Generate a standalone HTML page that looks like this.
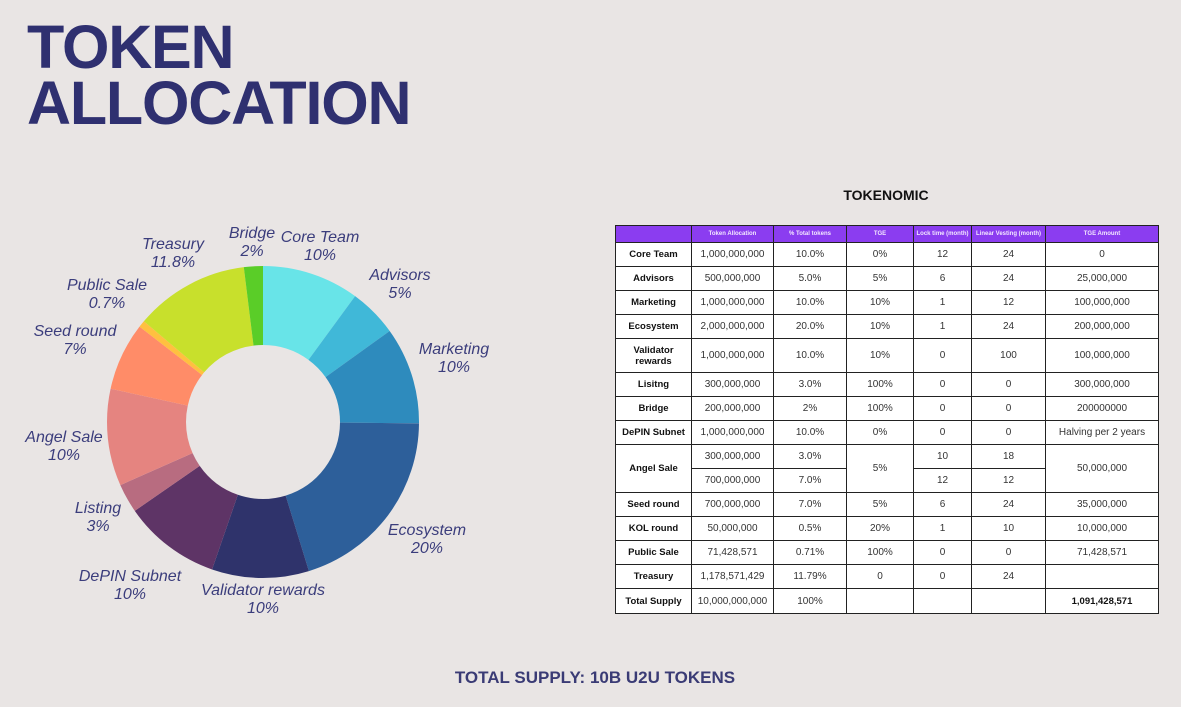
<!DOCTYPE html>
<html><head><meta charset="utf-8"><style>
body{margin:0;width:1181px;height:707px;background:#e9e5e4;position:relative;overflow:hidden;font-family:"Liberation Sans",sans-serif}
.t{position:absolute;left:27px;color:#2f3070;font-weight:bold;font-size:61px;letter-spacing:-1.2px;line-height:60px}
.lb{position:absolute;font-style:italic;color:#3b3d7c;font-size:16px;text-align:center;line-height:18px;transform:translateX(-50%);white-space:nowrap}
table{position:absolute;left:615px;top:225px;border-collapse:collapse;table-layout:fixed;width:543px}
td{border:1.5px solid #222;background:#fff;text-align:center;font-size:10px;color:#333;padding:0;height:23px}
th{background:#8b3df0;color:#f3e8ff;font-size:6px;font-weight:bold;height:16px;border:1.5px solid #222;padding:0}
td.n{font-weight:bold;color:#111;font-size:9.5px}
</style></head><body>
<div class="t" style="top:17px">TOKEN</div>
<div class="t" style="top:73px">ALLOCATION</div>
<svg style="position:absolute;left:0;top:0" width="600" height="707">
<g transform="rotate(-90 263 422)" fill="none" stroke-width="79">
<circle cx="263" cy="422" r="116.5" stroke="#68e4e8" stroke-dasharray="73.57 732" stroke-dashoffset="0"/>
<circle cx="263" cy="422" r="116.5" stroke="#40b8d8" stroke-dasharray="36.78 732" stroke-dashoffset="-73.57"/>
<circle cx="263" cy="422" r="116.5" stroke="#2e8bbd" stroke-dasharray="73.57 732" stroke-dashoffset="-110.35"/>
<circle cx="263" cy="422" r="116.5" stroke="#2d5f9a" stroke-dasharray="147.13 732" stroke-dashoffset="-183.92"/>
<circle cx="263" cy="422" r="116.5" stroke="#2f336b" stroke-dasharray="73.57 732" stroke-dashoffset="-331.05"/>
<circle cx="263" cy="422" r="116.5" stroke="#5e3466" stroke-dasharray="73.57 732" stroke-dashoffset="-404.62"/>
<circle cx="263" cy="422" r="116.5" stroke="#b86c80" stroke-dasharray="22.07 732" stroke-dashoffset="-478.19"/>
<circle cx="263" cy="422" r="116.5" stroke="#e58480" stroke-dasharray="73.57 732" stroke-dashoffset="-500.26"/>
<circle cx="263" cy="422" r="116.5" stroke="#ff8c68" stroke-dasharray="51.5 732" stroke-dashoffset="-573.83"/>
<circle cx="263" cy="422" r="116.5" stroke="#ffc040" stroke-dasharray="5.15 732" stroke-dashoffset="-625.33"/>
<circle cx="263" cy="422" r="116.5" stroke="#c8e02c" stroke-dasharray="86.81 732" stroke-dashoffset="-630.48"/>
<circle cx="263" cy="422" r="116.5" stroke="#5acd28" stroke-dasharray="14.71 732" stroke-dashoffset="-717.29"/>
</g></svg>
<div class="lb" style="left:252px;top:225px">Bridge<br>2%</div>
<div class="lb" style="left:320px;top:229px">Core Team<br>10%</div>
<div class="lb" style="left:400px;top:267px">Advisors<br>5%</div>
<div class="lb" style="left:454px;top:341px">Marketing<br>10%</div>
<div class="lb" style="left:427px;top:522px">Ecosystem<br>20%</div>
<div class="lb" style="left:263px;top:582px">Validator rewards<br>10%</div>
<div class="lb" style="left:130px;top:568px">DePIN Subnet<br>10%</div>
<div class="lb" style="left:98px;top:500px">Listing<br>3%</div>
<div class="lb" style="left:64px;top:429px">Angel Sale<br>10%</div>
<div class="lb" style="left:75px;top:323px">Seed round<br>7%</div>
<div class="lb" style="left:107px;top:277px">Public Sale<br>0.7%</div>
<div class="lb" style="left:173px;top:236px">Treasury<br>11.8%</div>
<div style="position:absolute;left:786px;width:200px;text-align:center;top:187px;font-weight:bold;font-size:14px;color:#111">TOKENOMIC</div>
<table>
<colgroup><col style="width:76px"><col style="width:82px"><col style="width:73px"><col style="width:67px"><col style="width:58px"><col style="width:74px"><col style="width:113px"></colgroup>
<tr><th></th><th>Token Allocation</th><th>% Total tokens</th><th>TGE</th><th>Lock time (month)</th><th>Linear Vesting (month)</th><th>TGE Amount</th></tr>
<tr><td class="n">Core Team</td><td>1,000,000,000</td><td>10.0%</td><td>0%</td><td>12</td><td>24</td><td>0</td></tr>
<tr><td class="n">Advisors</td><td>500,000,000</td><td>5.0%</td><td>5%</td><td>6</td><td>24</td><td>25,000,000</td></tr>
<tr><td class="n">Marketing</td><td>1,000,000,000</td><td>10.0%</td><td>10%</td><td>1</td><td>12</td><td>100,000,000</td></tr>
<tr><td class="n">Ecosystem</td><td>2,000,000,000</td><td>20.0%</td><td>10%</td><td>1</td><td>24</td><td>200,000,000</td></tr>
<tr><td class="n" style="height:33px">Validator<br>rewards</td><td>1,000,000,000</td><td>10.0%</td><td>10%</td><td>0</td><td>100</td><td>100,000,000</td></tr>
<tr><td class="n">Lisitng</td><td>300,000,000</td><td>3.0%</td><td>100%</td><td>0</td><td>0</td><td>300,000,000</td></tr>
<tr><td class="n">Bridge</td><td>200,000,000</td><td>2%</td><td>100%</td><td>0</td><td>0</td><td>200000000</td></tr>
<tr><td class="n">DePIN Subnet</td><td>1,000,000,000</td><td>10.0%</td><td>0%</td><td>0</td><td>0</td><td>Halving per 2 years</td></tr>
<tr><td class="n" rowspan="2">Angel Sale</td><td>300,000,000</td><td>3.0%</td><td rowspan="2">5%</td><td>10</td><td>18</td><td rowspan="2">50,000,000</td></tr>
<tr><td>700,000,000</td><td>7.0%</td><td>12</td><td>12</td></tr>
<tr><td class="n">Seed round</td><td>700,000,000</td><td>7.0%</td><td>5%</td><td>6</td><td>24</td><td>35,000,000</td></tr>
<tr><td class="n">KOL round</td><td>50,000,000</td><td>0.5%</td><td>20%</td><td>1</td><td>10</td><td>10,000,000</td></tr>
<tr><td class="n">Public Sale</td><td>71,428,571</td><td>0.71%</td><td>100%</td><td>0</td><td>0</td><td>71,428,571</td></tr>
<tr><td class="n">Treasury</td><td>1,178,571,429</td><td>11.79%</td><td>0</td><td>0</td><td>24</td><td></td></tr>
<tr><td class="n" style="height:24px">Total Supply</td><td>10,000,000,000</td><td>100%</td><td></td><td></td><td></td><td class="n">1,091,428,571</td></tr>
</table>
<div style="position:absolute;left:395px;width:400px;text-align:center;top:668px;font-weight:bold;font-size:17px;color:#3a3b75">TOTAL SUPPLY: 10B U2U TOKENS</div>
</body></html>
